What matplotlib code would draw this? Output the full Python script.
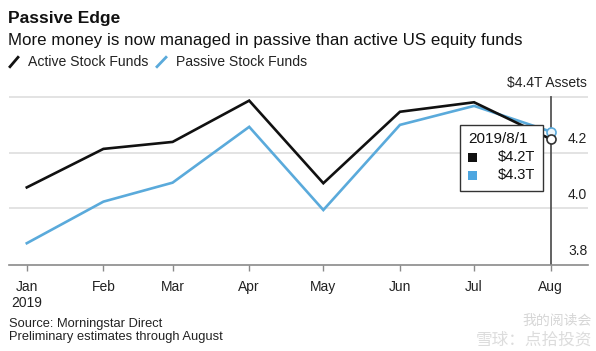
import matplotlib
matplotlib.use('Agg')
import matplotlib.pyplot as plt
import matplotlib.dates as mdates
from matplotlib.lines import Line2D
from matplotlib.patches import Rectangle
import numpy as np
import datetime

plt.rcParams['font.family'] = ['Liberation Sans', 'DejaVu Sans']

# data
months = ['2019-01-01', '2019-02-01', '2019-03-01', '2019-04-01',
          '2019-05-01', '2019-06-01', '2019-07-01', '2019-08-01']
month_labels = ['Jan\n2019', 'Feb', 'Mar', 'Apr', 'May', 'Jun', 'Jul', 'Aug']
active = [4.075, 4.213, 4.238, 4.386, 4.090, 4.346, 4.380, 4.248]
passive = [3.875, 4.024, 4.092, 4.292, 3.994, 4.299, 4.367, 4.275]
yticks = [3.8, 4.0, 4.2, 4.4]
ytick_labels = ['3.8', '4.0', '4.2', '$4.4T Assets']
tip_date = '2019/8/1'
tip_values = ['$4.2T', '$4.3T']

W, H = 596, 351
BLACK = '#111111'
BLUE = '#5aaadb'
GRID = '#dedede'
AXIS = '#8a8a8a'

dates = [datetime.datetime.strptime(m, '%Y-%m-%d') for m in months]
x = mdates.date2num(dates)

fig = plt.figure(figsize=(W / 100, H / 100), dpi=100)
ax = fig.add_axes([9 / W, 1 - 265 / H, 579 / W, 175 / H])

def fx(px):
    return px / W

def fy(py):
    return 1 - py / H

# grid
for v in yticks[1:]:
    ax.axhline(v, color=GRID, lw=1.2, zorder=1)

ax.plot(x, passive, color=BLUE, lw=1.9, zorder=3, solid_joinstyle='miter')
ax.plot(x, active, color=BLACK, lw=1.9, zorder=4, solid_joinstyle='miter')

ax.set_xlim(x[0] - 7.2, x[-1] + 15.1)
ax.set_ylim(3.797, 4.424)

# cursor line at last point
ax.plot([x[-1], x[-1]], [3.797, yticks[-1]], color='#555555', lw=1.3, zorder=2)
ax.plot(x[-1], passive[-1], 'o', ms=6.5, mfc='#eef6fb', mec=BLUE, mew=1.2, zorder=6)
ax.plot(x[-1], active[-1], 'o', ms=6.5, mfc='white', mec='#333333', mew=1.2, zorder=7)

for s in ['top', 'right', 'left']:
    ax.spines[s].set_visible(False)
ax.spines['bottom'].set_color(AXIS)
ax.spines['bottom'].set_linewidth(1.2)
ax.set_yticks([])
ax.set_xticks(x)
ax.set_xticklabels(month_labels, fontsize=10, color='#222222', linespacing=1.25)
ax.tick_params(axis='x', length=4.5, width=1, color=AXIS, pad=6)
ax.set_facecolor('none')

for v, lbl in zip(yticks, ytick_labels):
    ax.annotate(lbl, xy=(1, v), xycoords=('axes fraction', 'data'),
                xytext=(-0.5, 9.8), textcoords='offset points',
                ha='right', va='center', fontsize=10, color='#222222')

# tooltip
box = Rectangle((fx(460), fy(191)), fx(543) - fx(460), fy(125) - fy(191),
                transform=fig.transFigure, facecolor='white', edgecolor='#333333',
                lw=1.0, zorder=10)
fig.patches.append(box)
fig.text(fx(468), fy(139), tip_date, fontsize=11, va='center', ha='left', color='#111111', zorder=11)
for yy, col, val in zip([157, 175], [BLACK, '#4da6e0'], tip_values):
    fig.patches.append(Rectangle((fx(467.5), fy(yy + 4.5)), 9 / W, 9 / H,
                                 transform=fig.transFigure, facecolor=col,
                                 edgecolor='none', zorder=11))
    fig.text(fx(535), fy(yy), val, fontsize=10.5, va='center', ha='right', color='#111111', zorder=11)

# titles
fig.text(fx(8), fy(18), 'Passive Edge', fontsize=12.5, fontweight='bold', va='center', color='#111111')
fig.text(fx(8), fy(40), 'More money is now managed in passive than active US equity funds',
         fontsize=12.2, va='center', color='#111111')

# legend
fig.lines.append(Line2D([fx(10), fx(18)], [fy(66.7), fy(57.3)], transform=fig.transFigure,
                        color=BLACK, lw=2))
fig.text(fx(28), fy(61.7), 'Active Stock Funds', fontsize=10.1, va='center', color='#222222')
fig.lines.append(Line2D([fx(157), fx(166)], [fy(66.7), fy(57.3)], transform=fig.transFigure,
                        color=BLUE, lw=2))
fig.text(fx(176), fy(61.7), 'Passive Stock Funds', fontsize=10.1, va='center', color='#222222')

# footer
fig.text(fx(9), fy(324), 'Source: Morningstar Direct', fontsize=9.3, va='center', color='#222222')
fig.text(fx(9), fy(337), 'Preliminary estimates through August', fontsize=9.3, va='center', color='#222222')

# watermark
fig.text(fx(592), fy(321), '我的阅读会', fontsize=10, va='center', ha='right', color='#cccccc',
         family=['Noto Sans CJK SC', 'DejaVu Sans'], alpha=0.8)
fig.text(fx(592), fy(340), '雪球：点拾投资', fontsize=12, va='center', ha='right', color='#d4d4d4',
         family=['Noto Sans CJK SC', 'DejaVu Sans'], alpha=0.8)

fig.savefig('out.png', dpi=100, facecolor='white')
